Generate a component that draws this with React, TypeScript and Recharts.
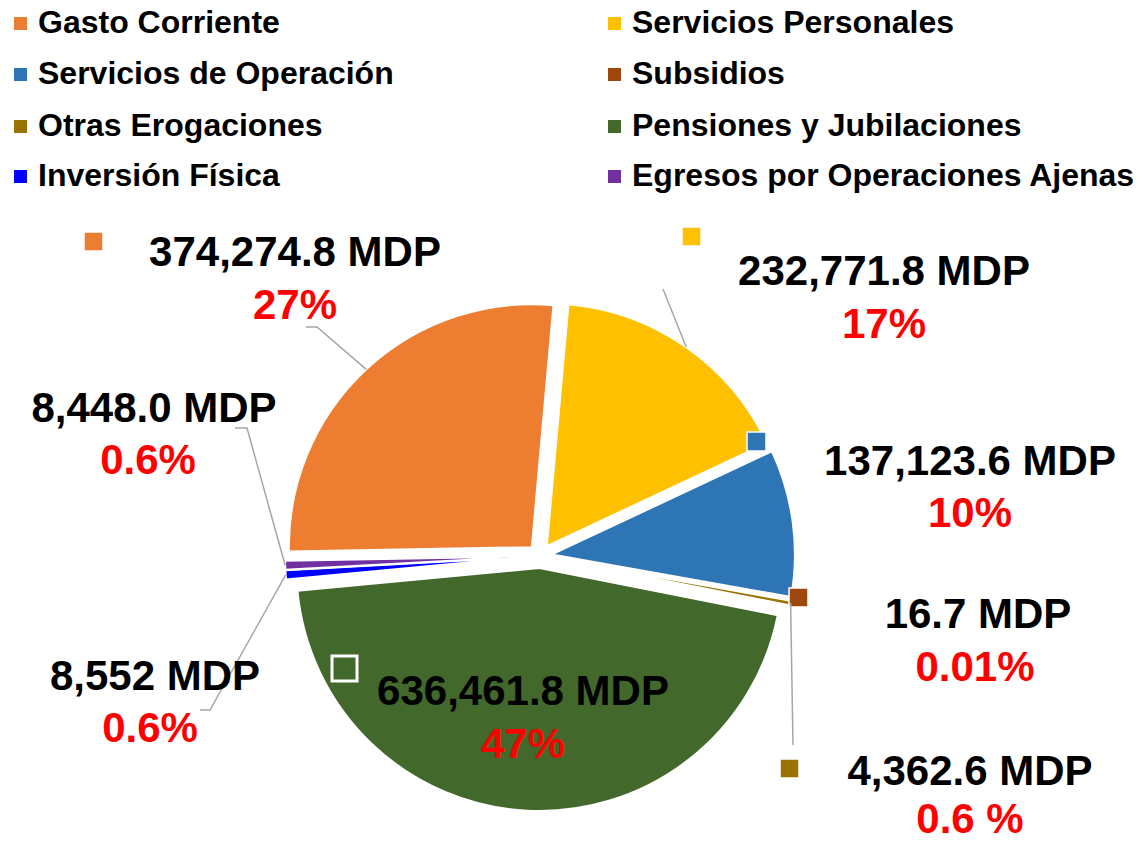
import React from 'react';
import { PieChart, Pie, Cell, Legend } from 'recharts';

// ---------- data ----------
const categories = [
  'Gasto Corriente',
  'Servicios Personales',
  'Servicios de Operación',
  'Subsidios',
  'Otras Erogaciones',
  'Pensiones y Jubilaciones',
  'Inversión Física',
  'Egresos por Operaciones Ajenas',
];
const amounts = [374274.8, 232771.8, 137123.6, 16.7, 4362.6, 636461.8, 8552, 8448.0];
const amountLabels = [
  '374,274.8 MDP',
  '232,771.8 MDP',
  '137,123.6 MDP',
  '16.7 MDP',
  '4,362.6 MDP',
  '636,461.8 MDP',
  '8,552 MDP',
  '8,448.0 MDP',
];
const percentLabels = ['27%', '17%', '10%', '0.01%', '0.6 %', '47%', '0.6%', '0.6%'];
const colors = ['#ED7D31', '#FFC000', '#2E75B6', '#9E480E', '#997300', '#43682B', '#0000FF', '#7030A0'];

const data = categories.map((name, i) => ({ name, value: amounts[i] }));

// ---------- layout ----------
const W = 1144;
const H = 844;
const CX = 540;
const CY = 556;
const R = 243;
const EXPLODE = 12;
const START_ANGLE = 181;
const END_ANGLE = -179;
const RAD = Math.PI / 180;
const FONT = '"Liberation Sans", Arial, sans-serif';

const total = amounts.reduce((a, b) => a + b, 0);
let acc = 0;
const explodeOffsets = amounts.map((v) => {
  const mid = START_ANGLE - ((acc + v / 2) / total) * 360;
  acc += v;
  return { dx: EXPLODE * Math.cos(mid * RAD), dy: -EXPLODE * Math.sin(mid * RAD) };
});

// label placement relative to the pie centre (cx, cy)
type LabelLayout = {
  tx: number;
  vy: number;
  py: number;
  px?: number;
  key?: [number, number, number, boolean?];
  leader?: [number, number][];
};
const LABEL_LAYOUT: LabelLayout[] = [
  { tx: 295 - CX, vy: 266 - CY, py: 319 - CY, key: [84 - CX, 232 - CY, 19], leader: [[317 - CX, 327 - CY], [306 - CX, 327 - CY]] },
  { tx: 884 - CX, vy: 285 - CY, py: 338 - CY, key: [682 - CX, 227 - CY, 19], leader: [[663 - CX, 289 - CY]] },
  { tx: 970 - CX, vy: 475 - CY, py: 527 - CY, key: [747 - CX, 432 - CY, 19] },
  { tx: 978 - CX, vy: 628 - CY, py: 681 - CY, px: 975 - CX, key: [789 - CX, 588 - CY, 19] },
  { tx: 970 - CX, vy: 785 - CY, py: 833 - CY, key: [780 - CX, 759 - CY, 19], leader: [[793 - CX, 745 - CY]] },
  { tx: 523 - CX, vy: 705 - CY, py: 758 - CY, key: [332 - CX, 656 - CY, 25, true] },
  { tx: 155 - CX, vy: 690 - CY, py: 742 - CY, px: 150 - CX, leader: [[210 - CX, 710 - CY], [200 - CX, 710 - CY]] },
  { tx: 154 - CX, vy: 422 - CY, py: 474 - CY, px: 148 - CX, leader: [[247 - CX, 428 - CY], [235 - CX, 428 - CY]] },
];

const LEGEND_COL_X = [14, 608];
const LEGEND_ROW_BASE = [33, 84, 136, 186];

const renderLabel = (props: any) => {
  const { cx, cy, midAngle, outerRadius, index } = props;
  const L = LABEL_LAYOUT[index];
  const r = outerRadius + EXPLODE;
  const sx = cx + r * Math.cos(-midAngle * RAD);
  const sy = cy + r * Math.sin(-midAngle * RAD);
  const pts = L.leader ? [[sx, sy], ...L.leader.map(([x, y]) => [cx + x, cy + y])] : null;
  return (
    <g key={`lbl-${index}`}>
      {pts && (
        <polyline
          points={pts.map((p) => p.join(',')).join(' ')}
          fill="none"
          stroke="#A6A6A6"
          strokeWidth={1.5}
        />
      )}
      {L.key && (
        <rect
          x={cx + L.key[0]}
          y={cy + L.key[1]}
          width={L.key[2]}
          height={L.key[2]}
          fill={L.key[3] ? 'none' : colors[index]}
          stroke="#FFFFFF"
          strokeWidth={L.key[3] ? 3 : 1.5}
        />
      )}
      <text
        x={cx + L.tx}
        y={cy + L.vy}
        textAnchor="middle"
        fontFamily={FONT}
        fontWeight="bold"
        fontSize={42}
        fill="#000000"
      >
        {amountLabels[index]}
      </text>
      <text
        x={cx + (L.px ?? L.tx)}
        y={cy + L.py}
        textAnchor="middle"
        fontFamily={FONT}
        fontWeight="bold"
        fontSize={42}
        fill="#FF0000"
      >
        {percentLabels[index]}
      </text>
    </g>
  );
};

const renderLegend = () => (
  <svg width={W} height={200} style={{ display: 'block' }}>
    {categories.map((c, i) => {
      const col = i % 2;
      const row = Math.floor(i / 2);
      const x = LEGEND_COL_X[col];
      const base = LEGEND_ROW_BASE[row];
      return (
        <g key={c}>
          <rect x={x} y={base - 16} width={13} height={13} fill={colors[i]} />
          <text x={x + 24} y={base} fontFamily={FONT} fontWeight="bold" fontSize={32} fill="#000000">
            {c}
          </text>
        </g>
      );
    })}
  </svg>
);

export default function App() {
  return (
    <div style={{ position: 'absolute', left: 0, top: 0, width: W, height: H, background: '#FFFFFF' }}>
      <PieChart width={W} height={H} margin={{ top: 0, right: 0, bottom: 0, left: 0 }}>
        {categories.map((c, i) => (
          <Pie
            key={`slice-${i}`}
            data={data}
            dataKey="value"
            nameKey="name"
            cx={CX + explodeOffsets[i].dx}
            cy={CY + explodeOffsets[i].dy}
            outerRadius={R}
            startAngle={START_ANGLE}
            endAngle={END_ANGLE}
            isAnimationActive={false}
            legendType="none"
            labelLine={false}
            label={false}
          >
            {data.map((d, j) => (
              <Cell
                key={`c-${i}-${j}`}
                fill={j === i ? colors[j] : 'none'}
                stroke={j === i ? '#FFFFFF' : 'none'}
                strokeWidth={j === i ? 2 : 0}
              />
            ))}
          </Pie>
        ))}
        <Pie
          key="labels"
          data={data}
          dataKey="value"
          nameKey="name"
          cx={CX}
          cy={CY}
          outerRadius={R}
          startAngle={START_ANGLE}
          endAngle={END_ANGLE}
          isAnimationActive={false}
          legendType="none"
          labelLine={false}
          label={renderLabel}
        >
          {data.map((d, j) => (
            <Cell key={`l-${j}`} fill="none" stroke="none" />
          ))}
        </Pie>
        <Legend
          layout="horizontal"
          verticalAlign="middle"
          align="center"
          wrapperStyle={{ top: 0, left: 0, width: W, height: 200 }}
          content={renderLegend}
        />
      </PieChart>
    </div>
  );
}
